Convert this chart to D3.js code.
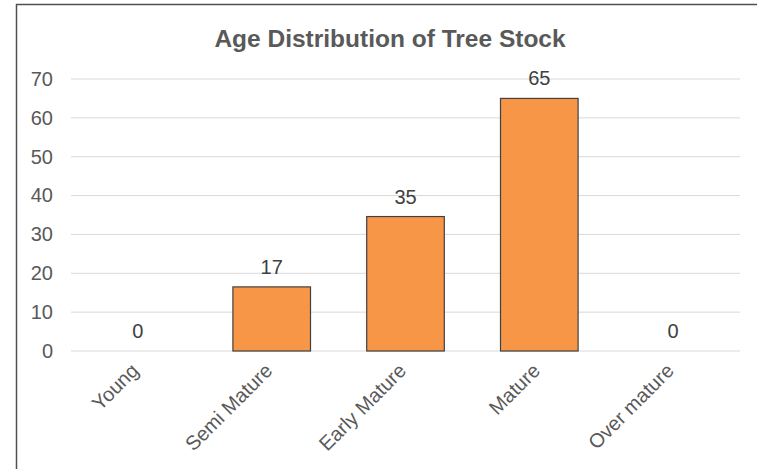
<!DOCTYPE html>
<html>
<head>
<meta charset="utf-8">
<script src="https://cdn.jsdelivr.net/npm/d3@7"></script>
<style>
body { margin: 0; background: #fff; }
svg { display: block; font-family: "Liberation Sans", Arial, sans-serif; }
</style>
</head>
<body>
<svg id="chart" width="757" height="469"></svg>
<script>
const title = "Age Distribution of Tree Stock";
const categories = ["Young", "Semi Mature", "Early Mature", "Mature", "Over mature"];
const values = [0, 16.5, 34.6, 65, 0];
const yTicks = [0, 10, 20, 30, 40, 50, 60, 70];

const svg = d3.select("#chart");
const W = 757, H = 469;

// chart border
svg.append("rect")
  .attr("x", 16.5).attr("y", 4.5)
  .attr("width", W + 10).attr("height", H + 10)
  .attr("fill", "#fff").attr("stroke", "#505050").attr("stroke-width", 1.5);

const plot = { left: 71, right: 740, top: 79, bottom: 351 };

const x = d3.scaleBand().domain(categories).range([plot.left, plot.right]).paddingInner(0.42).paddingOuter(0.21);
const y = d3.scaleLinear().domain([0, 70]).range([plot.bottom, plot.top]);

// title
svg.append("text")
  .attr("x", 390).attr("y", 47)
  .attr("text-anchor", "middle")
  .attr("font-size", 24.5).attr("font-weight", "bold")
  .attr("fill", "#595959")
  .text(title);

// gridlines
svg.append("g").selectAll("line").data(yTicks).join("line")
  .attr("x1", plot.left).attr("x2", plot.right)
  .attr("y1", d => y(d)).attr("y2", d => y(d))
  .attr("stroke", "#d9d9d9").attr("stroke-width", 1);

// y axis labels
const yAxis = d3.axisLeft(y).tickValues(yTicks).tickSize(0).tickPadding(0);
const yg = svg.append("g").attr("transform", `translate(${plot.left - 18},0)`).call(yAxis);
yg.select(".domain").remove();
yg.selectAll("text").attr("font-size", 20).attr("fill", "#595959")
  .attr("font-family", "Liberation Sans, Arial, sans-serif");

// bars
svg.append("g").selectAll("rect").data(categories).join("rect")
  .attr("x", d => x(d)).attr("width", x.bandwidth())
  .attr("y", (d, i) => y(values[i]))
  .attr("height", (d, i) => plot.bottom - y(values[i]))
  .attr("fill", "#F79646")
  .attr("stroke", (d, i) => values[i] > 0 ? "#404040" : "none")
  .attr("stroke-width", 1.2);

// value labels
svg.append("g").selectAll("text").data(categories).join("text")
  .attr("x", d => x(d) + x.bandwidth() / 2)
  .attr("y", (d, i) => y(values[i]) - 13)
  .attr("text-anchor", "middle")
  .attr("font-size", 20).attr("fill", "#404040")
  .text((d, i) => d3.format(".0f")(values[i]));

// x axis labels
const xg = svg.append("g");
xg.selectAll("text").data(categories).join("text")
  .attr("transform", d => `translate(${x(d) + x.bandwidth() / 2 - 3},${plot.bottom + 16}) rotate(-45)`)
  .attr("text-anchor", "end")
  .attr("dy", "0.35em")
  .attr("font-size", 20).attr("fill", "#595959")
  .text(d => d);
</script>
</body>
</html>
